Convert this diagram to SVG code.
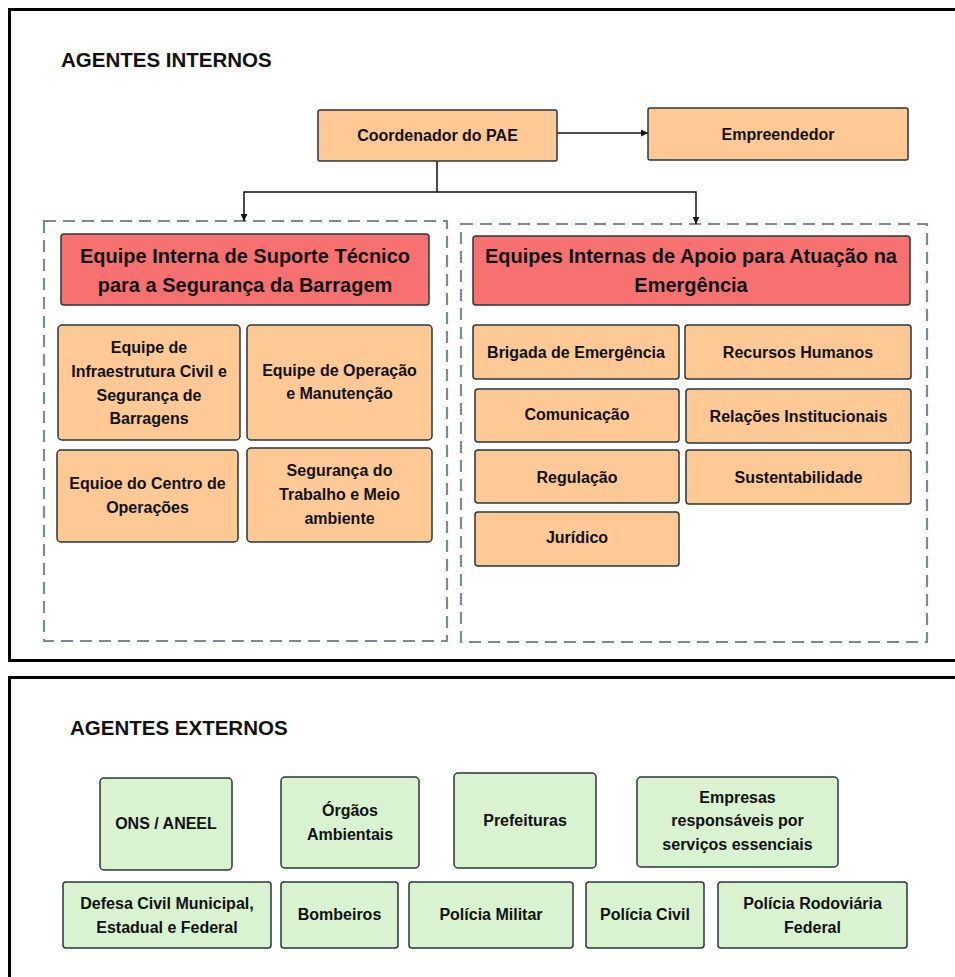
<svg xmlns="http://www.w3.org/2000/svg" width="955" height="977" viewBox="0 0 955 977">
<style>
.frame{fill:none;stroke:#000;stroke-width:3}
.dash{fill:none;stroke:#7b8b94;stroke-width:2.2;stroke-dasharray:12 7}
.o{fill:#fec994;stroke:#29363d;stroke-width:1.5}
.r{fill:#f87171;stroke:#29363d;stroke-width:1.5}
.g{fill:#d9f2d0;stroke:#29363d;stroke-width:1.5}
text{font-family:"Liberation Sans",Arial,sans-serif;font-weight:bold;fill:#111;text-anchor:middle}
.t{font-size:16px}
.h{font-size:20px}
.title{font-size:20.5px;text-anchor:start}
.c{fill:none;stroke:#111;stroke-width:1.5}
</style>
<defs>
<marker id="ah" viewBox="0 0 10 10" refX="10" refY="5" markerWidth="7" markerHeight="7" orient="auto" markerUnits="userSpaceOnUse">
<path d="M0,0 L10,5 L0,10 z" fill="#111"/>
</marker>
</defs>
<rect width="955" height="977" fill="#fff"/>
<rect class="frame" x="9.5" y="9.5" width="960" height="651"/>
<rect class="frame" x="9.5" y="677.5" width="960" height="320"/>
<text class="title" x="61" y="67">AGENTES INTERNOS</text>
<text class="title" x="70" y="735">AGENTES EXTERNOS</text>

<g id="grupo-suporte"><rect class="dash" x="44" y="221" width="403" height="420"/></g>
<g id="grupo-apoio"><rect class="dash" x="461" y="224" width="466" height="418"/></g>

<g id="connectors">
<path class="c" d="M557,133 L648,133" marker-end="url(#ah)"/>
<path class="c" d="M437,161 L437,192 L244,192 L244,221" marker-end="url(#ah)"/>
<path class="c" d="M437,192 L696,192 L696,224" marker-end="url(#ah)"/>
</g>

<g id="coordenador"><rect class="o" x="318" y="110" width="239" height="51" rx="2"/><text class="t" x="437.5" y="141">Coordenador do PAE</text></g>
<g id="empreendedor"><rect class="o" x="648" y="108" width="260" height="52" rx="2"/><text class="t" x="778" y="140">Empreendedor</text></g>

<g id="equipe-suporte"><rect class="r" x="61" y="234" width="368" height="71" rx="3"/><text class="h" x="245" y="263">Equipe Interna de Suporte Técnico</text><text class="h" x="245" y="292">para a Segurança da Barragem</text></g>
<g id="equipes-apoio"><rect class="r" x="473" y="236" width="437" height="69" rx="3"/><text class="h" x="691" y="263">Equipes Internas de Apoio para Atuação na</text><text class="h" x="691" y="292">Emergência</text></g>

<g id="infraestrutura"><rect class="o" x="58" y="325" width="182" height="115" rx="4"/><text class="t" x="149" y="353">Equipe de</text><text class="t" x="149" y="377">Infraestrutura Civil e</text><text class="t" x="149" y="401">Segurança de</text><text class="t" x="149" y="424">Barragens</text></g>
<g id="operacao"><rect class="o" x="247" y="325" width="185" height="115" rx="4"/><text class="t" x="339.5" y="376">Equipe de Operação</text><text class="t" x="339.5" y="399">e Manutenção</text></g>
<g id="centro-operacoes"><rect class="o" x="57" y="450" width="181" height="92" rx="4"/><text class="t" x="147.5" y="489">Equioe do Centro de</text><text class="t" x="147.5" y="513">Operações</text></g>
<g id="seguranca-trabalho"><rect class="o" x="247" y="448" width="185" height="94" rx="4"/><text class="t" x="339.5" y="476">Segurança do</text><text class="t" x="339.5" y="500">Trabalho e Meio</text><text class="t" x="339.5" y="524">ambiente</text></g>

<g id="brigada"><rect class="o" x="473" y="325" width="206" height="54" rx="3"/><text class="t" x="576" y="358">Brigada de Emergência</text></g>
<g id="rh"><rect class="o" x="685" y="325" width="226" height="54" rx="3"/><text class="t" x="798" y="358">Recursos Humanos</text></g>
<g id="comunicacao"><rect class="o" x="475" y="389" width="204" height="53" rx="3"/><text class="t" x="577" y="420">Comunicação</text></g>
<g id="relacoes"><rect class="o" x="686" y="389" width="225" height="54" rx="3"/><text class="t" x="798.5" y="422">Relações Institucionais</text></g>
<g id="regulacao"><rect class="o" x="475" y="450" width="204" height="53" rx="3"/><text class="t" x="577" y="483">Regulação</text></g>
<g id="sustentabilidade"><rect class="o" x="686" y="450" width="225" height="54" rx="3"/><text class="t" x="798.5" y="483">Sustentabilidade</text></g>
<g id="juridico"><rect class="o" x="475" y="512" width="204" height="54" rx="3"/><text class="t" x="577" y="543">Jurídico</text></g>

<g id="ons"><rect class="g" x="100" y="778" width="132" height="92" rx="4"/><text class="t" x="166" y="829">ONS / ANEEL</text></g>
<g id="orgaos"><rect class="g" x="281" y="777" width="138" height="91" rx="4"/><text class="t" x="350" y="816">Órgãos</text><text class="t" x="350" y="840">Ambientais</text></g>
<g id="prefeituras"><rect class="g" x="454" y="773" width="142" height="95" rx="4"/><text class="t" x="525" y="826">Prefeituras</text></g>
<g id="empresas"><rect class="g" x="637" y="777" width="201" height="90" rx="4"/><text class="t" x="737.5" y="803">Empresas</text><text class="t" x="737.5" y="826">responsáveis por</text><text class="t" x="737.5" y="850">serviços essenciais</text></g>
<g id="defesa-civil"><rect class="g" x="63" y="882" width="208" height="66" rx="3"/><text class="t" x="167" y="909">Defesa Civil Municipal,</text><text class="t" x="167" y="933">Estadual e Federal</text></g>
<g id="bombeiros"><rect class="g" x="281" y="882" width="117" height="66" rx="3"/><text class="t" x="339.5" y="920">Bombeiros</text></g>
<g id="policia-militar"><rect class="g" x="409" y="882" width="164" height="66" rx="3"/><text class="t" x="491" y="920">Polícia Militar</text></g>
<g id="policia-civil"><rect class="g" x="586" y="882" width="118" height="66" rx="3"/><text class="t" x="645" y="920">Polícia Civil</text></g>
<g id="prf"><rect class="g" x="718" y="882" width="189" height="66" rx="3"/><text class="t" x="812.5" y="909">Polícia Rodoviária</text><text class="t" x="812.5" y="933">Federal</text></g>
</svg>
